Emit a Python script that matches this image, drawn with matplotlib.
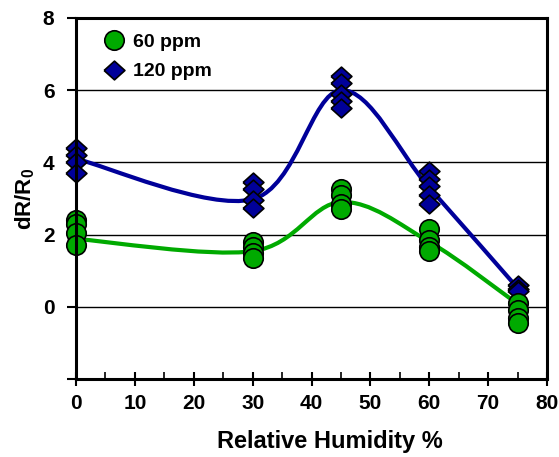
import numpy as np
import matplotlib
matplotlib.use('Agg')
import matplotlib.pyplot as plt
from matplotlib.path import Path
from matplotlib.patches import PathPatch
from matplotlib.lines import Line2D

humidity = [0, 30, 45, 60, 75]

# repeated measurements at each humidity
ppm60 = [[2.4, 2.3, 2.05, 1.7],
         [1.8, 1.65, 1.5, 1.35],
         [3.25, 3.1, 2.85, 2.7],
         [2.15, 1.85, 1.65, 1.55],
         [0.1, -0.1, -0.3, -0.45]]
ppm120 = [[4.4, 4.2, 4.0, 3.7],
          [3.45, 3.25, 2.95, 2.75],
          [6.4, 6.2, 5.9, 5.7, 5.5],
          [3.75, 3.55, 3.35, 3.1, 2.85],
          [0.6, 0.5, 0.45]]

# smoothed trend lines
fit60 = [1.88, 1.54, 2.9, 1.8, 0.08]
fit120 = [4.1, 2.98, 6.0, 3.3, 0.52]

green = '#00aa00'
blue = '#000099'

plt.rcParams['font.family'] = ['Liberation Sans', 'DejaVu Sans']
plt.rcParams['font.weight'] = 'bold'
plt.rcParams['mathtext.fontset'] = 'custom'
plt.rcParams['mathtext.bf'] = 'Liberation Sans:bold'
plt.rcParams['mathtext.rm'] = 'Liberation Sans:bold'
plt.rcParams['mathtext.default'] = 'bf'

diamond = [(-1, 0), (0, 0.9), (1, 0), (0, -0.9), (-1, 0)]


def smooth_path(x, y):
    pts = np.column_stack([x, y]).astype(float)
    n = len(pts)
    verts = [pts[0]]
    codes = [Path.MOVETO]
    for i in range(n - 1):
        p0 = pts[max(i - 1, 0)]
        p1 = pts[i]
        p2 = pts[i + 1]
        p3 = pts[min(i + 2, n - 1)]
        verts += [p1 + (p2 - p0) / 6, p2 - (p3 - p1) / 6, p2]
        codes += [Path.CURVE4] * 3
    return Path(verts, codes)


fig = plt.figure(figsize=(5.59, 4.57), dpi=100)
ax = fig.add_axes([0.136, 0.1707, 0.8425, 0.79])

for v in [0, 2, 4, 6]:
    ax.axhline(v, color='black', lw=1, zorder=1)

ax.add_patch(PathPatch(smooth_path(humidity, fit120), fill=False,
                       edgecolor=blue, lw=3, zorder=2))
ax.add_patch(PathPatch(smooth_path(humidity, fit60), fill=False,
                       edgecolor=green, lw=3, zorder=2))

for h, vals in zip(humidity, ppm120):
    for v in vals:
        ax.plot(h, v, marker=diamond, ms=15, mfc=blue, mec='black',
                mew=1.2, ls='none', zorder=3, clip_on=False)
for h, vals in zip(humidity, ppm60):
    for v in vals:
        ax.plot(h, v, marker='o', ms=14, mfc=green, mec='black',
                mew=1.2, ls='none', zorder=4, clip_on=False)

ax.set_xlim(0, 80)
ax.set_ylim(-2, 8)
ax.set_xticks(range(0, 81, 10))
ax.set_xticks(range(5, 80, 10), minor=True)
ax.set_yticks(range(-2, 9, 2))
ax.set_yticklabels([''] + [str(v) for v in range(0, 9, 2)])

for s in ax.spines.values():
    s.set_linewidth(2.2)
    s.set_zorder(5)

ax.tick_params(axis='x', which='major', direction='inout', length=9.5,
               width=1.5, labelsize=15, pad=6)
ax.tick_params(axis='x', which='minor', direction='in', length=5, width=1.2)
ax.tick_params(axis='y', direction='out', length=6.5, width=1.5,
               labelsize=15, pad=9)

ax.set_xlabel('Relative Humidity %', fontsize=17, fontweight='bold')
ax.xaxis.set_label_coords(0.54, -0.14)
ax.set_ylabel('dR/R$_0$', fontsize=16, fontweight='bold')
ax.yaxis.set_label_coords(-0.083, 0.5)

handles = [Line2D([], [], marker='o', ms=14, mfc=green, mec='black',
                  mew=1.2, ls='none'),
           Line2D([], [], marker=diamond, ms=15, mfc=blue, mec='black',
                  mew=1.2, ls='none')]
ax.legend(handles, ['60 ppm', '120 ppm'], loc='upper left', frameon=False,
          prop={'size': 14, 'weight': 'bold'}, handlelength=1.0,
          handletextpad=0.5, labelspacing=0.6, borderaxespad=0.4,
          bbox_to_anchor=(0.026, 1.0))

fig.savefig('out.png', dpi=100)
